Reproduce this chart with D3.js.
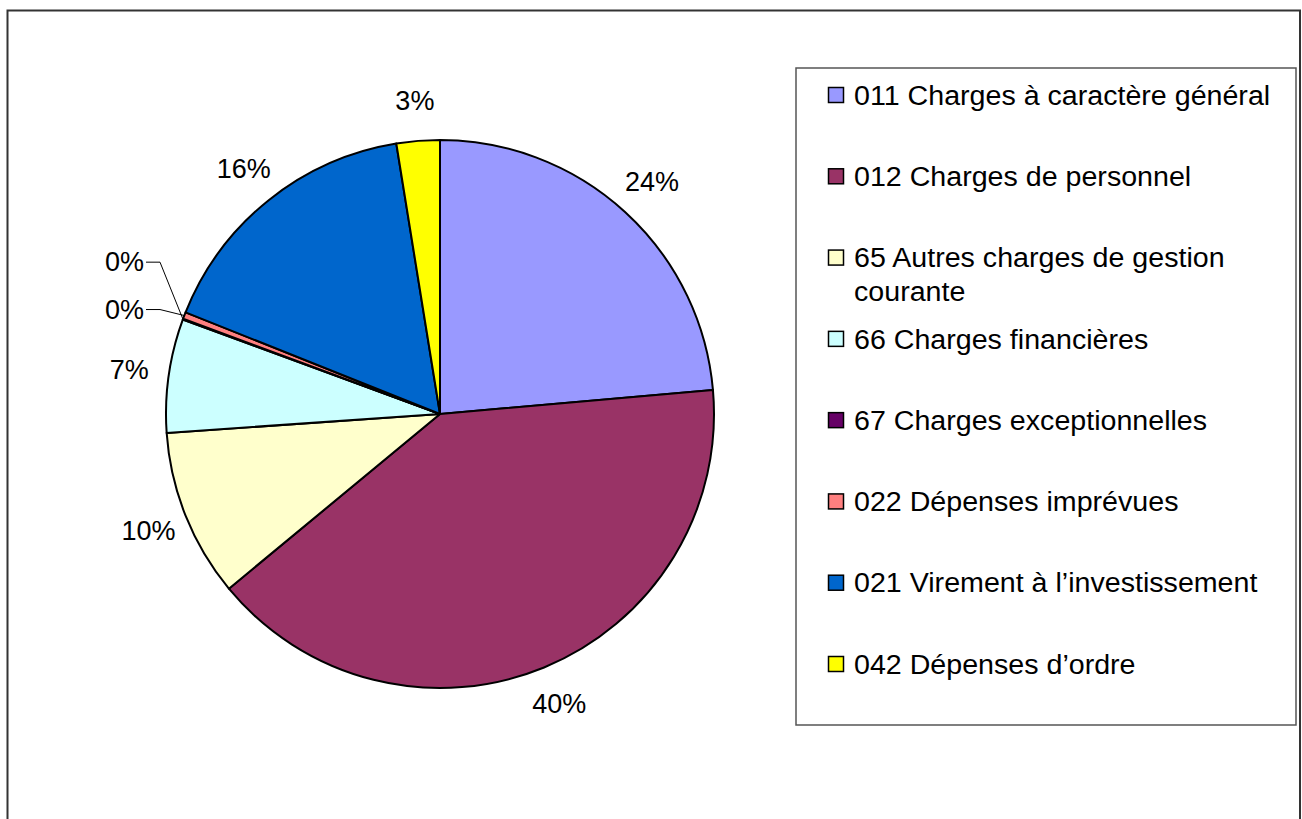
<!DOCTYPE html>
<html>
<head>
<meta charset="utf-8">
<script src="https://cdn.jsdelivr.net/npm/d3@7"></script>
<style>
  body { margin: 0; background: #fff; }
  text { font-family: "Liberation Sans", Arial, sans-serif; fill: #000; }
</style>
</head>
<body>
<div id="chart"></div>
<script>
// budget categories (legend order = slice order, clockwise from 12 o'clock)
var categories = [
    "011 Charges à caractère général",
    "012 Charges de personnel",
    "65 Autres charges de gestion courante",
    "66 Charges financières",
    "67 Charges exceptionnelles",
    "022 Dépenses imprévues",
    "021 Virement à l’investissement",
    "042 Dépenses d’ordre"
];
// share of total
var values = [23.6, 40.4, 9.9, 6.7, 0.05, 0.4, 16.4, 2.55];
var colors = ["#9999FF", "#993366", "#FFFFCC", "#CCFFFF", "#660066", "#FF8080", "#0066CC", "#FFFF00"];

var svgWidth = 1302;
var svgHeight = 819;

var svg = d3.select("#chart")
    .append("svg")
    .attr("width", svgWidth)
    .attr("height", svgHeight);

// outer frame
svg.append("rect")
    .attr("x", 7.5)
    .attr("y", 10.5)
    .attr("width", 1292.5)
    .attr("height", 830)
    .attr("fill", "none")
    .attr("stroke", "#333")
    .attr("stroke-width", 2);

var cx = 440, cy = 414, radius = 274;

var data = categories.map(function(c, i) {
    return { name: c, value: values[i], color: colors[i] };
});
var total = d3.sum(values);
var fmt = d3.format(".0%");

var pie = d3.pie().sort(null).value(d => d.value);
var arc = d3.arc().innerRadius(0).outerRadius(radius);
var arcs = pie(data);

var pieGroup = svg.append("g")
    .attr("transform", `translate(${cx}, ${cy})`);

pieGroup.selectAll("path")
    .data(arcs)
    .enter()
    .append("path")
    .attr("d", arc)
    .attr("fill", d => d.data.color)
    .attr("stroke", "#000")
    .attr("stroke-width", 2)
    .attr("stroke-linejoin", "round");

// percentage labels
var labelDist = radius + 40;
var small = 0;
arcs.slice().reverse().forEach(function(d) {
    var a = (d.startAngle + d.endAngle) / 2;
    var pct = d.data.value / total;
    var txt = fmt(pct);
    if (pct >= 0.01) {
        pieGroup.append("text")
            .attr("x", Math.sin(a) * labelDist)
            .attr("y", -Math.cos(a) * labelDist)
            .attr("text-anchor", "middle")
            .attr("dominant-baseline", "central")
            .attr("font-size", "27px")
            .text(txt);
    } else {
        // tiny slices: label pushed out to the left with a leader line
        var ex = Math.sin(a) * radius, ey = -Math.cos(a) * radius;
        var ly = ey - 6 - small * 51;
        var elbowX = -radius - 6;
        pieGroup.append("polyline")
            .attr("points", [[ex, ey], [elbowX, ly], [elbowX - 14, ly]].map(p => p.join(",")).join(" "))
            .attr("fill", "none")
            .attr("stroke", "#000")
            .attr("stroke-width", 1);
        pieGroup.append("text")
            .attr("x", elbowX - 16)
            .attr("y", ly)
            .attr("text-anchor", "end")
            .attr("dominant-baseline", "central")
            .attr("font-size", "27px")
            .text(txt);
        small++;
    }
});

// legend
var legend = svg.append("g");
legend.append("rect")
    .attr("x", 796)
    .attr("y", 68)
    .attr("width", 500)
    .attr("height", 657)
    .attr("fill", "#fff")
    .attr("stroke", "#555")
    .attr("stroke-width", 1.5);

var rowY = d3.scaleLinear().domain([0, categories.length - 1]).range([95, 664]);
var textScale = 1.06;
var maxText = 430 / textScale;

data.forEach(function(d, i) {
    var y = rowY(i);
    legend.append("rect")
        .attr("x", 828.5)
        .attr("y", y - 7.5)
        .attr("width", 15)
        .attr("height", 15)
        .attr("fill", d.color)
        .attr("stroke", "#000")
        .attr("stroke-width", 1.5);

    var t = legend.append("g")
        .attr("transform", `translate(854, ${y}) scale(${textScale}, 1)`)
        .append("text")
        .attr("dominant-baseline", "central")
        .attr("font-size", "27px");

    // simple word wrap
    var words = d.name.split(" ");
    var line = [];
    var tspan = t.append("tspan").attr("x", 0).attr("y", 0);
    var lineNo = 0;
    words.forEach(function(w) {
        line.push(w);
        tspan.text(line.join(" "));
        if (tspan.node().getComputedTextLength() > maxText && line.length > 1) {
            line.pop();
            tspan.text(line.join(" "));
            line = [w];
            lineNo++;
            tspan = t.append("tspan").attr("x", 0).attr("y", lineNo * 34).text(w);
        }
    });
});
</script>
</body>
</html>
